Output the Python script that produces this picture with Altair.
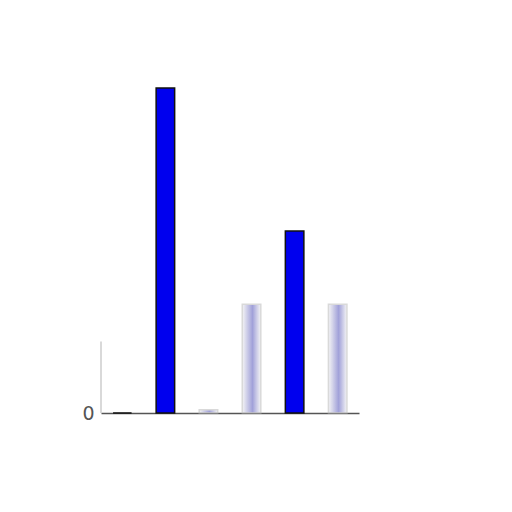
import altair as alt
import pandas as pd

categories = ["A", "B", "C", "D", "E", "F"]
values = [0, 100, 1, 33.5, 56, 33.5]
faded = [False, False, True, True, False, True]

df = pd.DataFrame({"cat": categories, "value": values, "faded": faded})

x = alt.X("cat:N", sort=categories,
          scale=alt.Scale(paddingInner=0.57, paddingOuter=0.28),
          axis=alt.Axis(title=None, labels=False, ticks=False,
                        domainColor="#555", domainWidth=1.5, grid=False))
y = alt.Y("value:Q", scale=alt.Scale(domain=[0, 100]),
          axis=alt.Axis(title=None, values=[0], ticks=False, domain=False,
                        grid=False, labelFontSize=19, labelColor="#555",
                        labelFont="DejaVu Sans", labelPadding=7))

base = alt.Chart(df)

solid = base.transform_filter("!datum.faded").mark_bar(
    color="#0000ee", stroke="#111", strokeWidth=1.5
).encode(x=x, y=y)

soft = base.transform_filter("datum.faded").mark_bar(
    fill=alt.Gradient(
        gradient="linear", x1=0, x2=1, y1=0, y2=0,
        stops=[alt.GradientStop(offset=0, color="#eeeeee"),
               alt.GradientStop(offset=0.55, color="#5555bb"),
               alt.GradientStop(offset=1, color="#eeeeee")]),
    opacity=0.55, stroke="#bbbbbb", strokeWidth=1.5
).encode(x=x, y=y)

axis_df = pd.DataFrame({"lo": [0], "hi": [22]})
vline = alt.Chart(axis_df).mark_rule(color="#cccccc", strokeWidth=1.5).encode(
    x=alt.value(0), y=alt.Y("lo:Q", scale=alt.Scale(domain=[0, 100])), y2="hi:Q")

chart = alt.layer(vline, soft, solid).properties(
    width=258, height=325,
    background="white",
    autosize=alt.AutoSizeParams(type="none"),
    padding={"left": 93, "top": 80, "right": 20, "bottom": 60},
).configure_view(strokeWidth=0)

chart.save("out.html", embed_options={"renderer": "svg", "actions": False})
